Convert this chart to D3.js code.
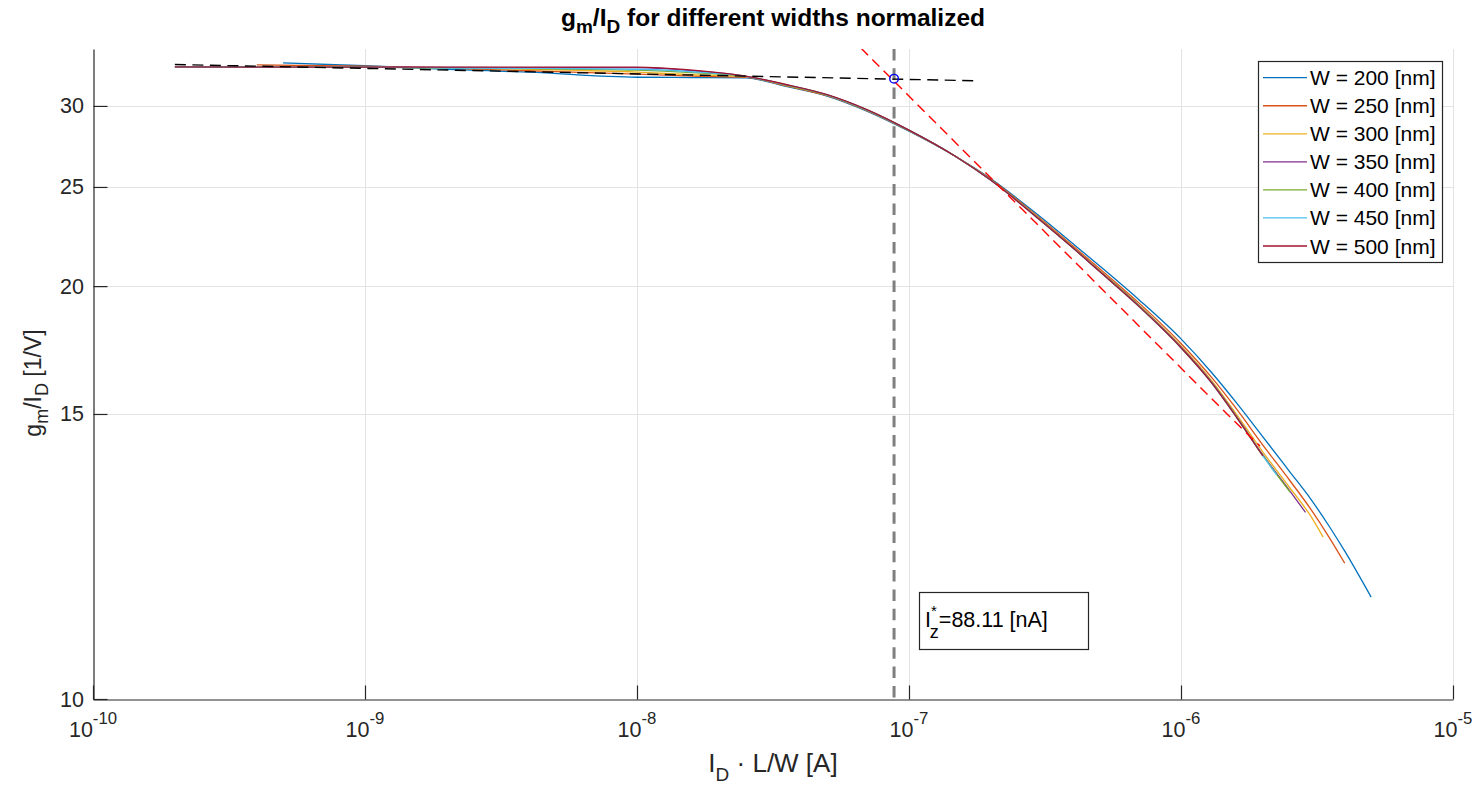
<!DOCTYPE html>
<html><head><meta charset="utf-8">
<script src="https://cdn.jsdelivr.net/npm/d3@7"></script>
<style>
body{margin:0;background:#fff}
svg{display:block}
text{font-family:"Liberation Sans",Arial,Helvetica,sans-serif;fill:#262626}
</style>
</head><body>
<svg id="c" width="1478" height="786"></svg>
<script>
// ---------------- data ----------------
const widths = [200, 250, 300, 350, 400, 450, 500];
const seriesColors = ["#0072BD", "#D95319", "#EDB120", "#7E2F8E", "#77AC30", "#4DBEEE", "#A2142F"];

const id_W200 = [5e-10,1e-9,2e-9,4e-9,1e-8,1.6e-8,2.5e-8,3.5e-8,5e-8,7e-8,1e-7,1.5e-7,2e-7,3e-7,4e-7,5e-7,7e-7,1e-6,1.3e-6,1.6e-6,2e-6,2.5e-6,3e-6,3.5e-6,4e-6,5e-6];
const gm_W200 = [33.05,32.84,32.58,32.37,32.00,31.98,31.96,31.36,30.67,29.65,28.34,26.73,25.47,23.44,22.01,20.95,19.40,17.76,16.45,15.38,14.52,13.83,13.29,12.79,12.34,11.56];

const id_W250 = [4e-10,1e-9,2e-9,4e-9,1e-8,1.6e-8,2.5e-8,3.5e-8,5e-8,7e-8,1e-7,1.5e-7,2e-7,3e-7,4e-7,5e-7,7e-7,1e-6,1.3e-6,1.6e-6,2e-6,2.5e-6,3e-6,3.5e-6,4e-6];
const gm_W250 = [32.90,32.80,32.66,32.47,32.22,32.08,32.00,31.40,30.70,29.68,28.37,26.73,25.43,23.35,21.90,20.82,19.26,17.58,16.27,15.17,14.35,13.66,13.10,12.59,12.13];

const id_W300 = [2e-10,1e-9,2e-9,4e-9,1e-8,1.6e-8,2.5e-8,3.5e-8,5e-8,7e-8,1e-7,1.5e-7,2e-7,3e-7,4e-7,5e-7,7e-7,1e-6,1.3e-6,1.6e-6,2e-6,2.5e-6,3e-6,3.33e-6];
const gm_W300 = [32.77,32.73,32.70,32.58,32.37,32.18,32.04,31.43,30.73,29.71,28.39,26.73,25.40,23.30,21.84,20.74,19.17,17.48,16.15,14.99,14.21,13.52,12.97,12.59];

const id_W350 = [2e-10,1e-9,2e-9,4e-9,1e-8,1.6e-8,2.5e-8,3.5e-8,5e-8,7e-8,1e-7,1.5e-7,2e-7,3e-7,4e-7,5e-7,7e-7,1e-6,1.3e-6,1.6e-6,2e-6,2.5e-6,2.87e-6];
const gm_W350 = [32.73,32.73,32.72,32.70,32.70,32.47,32.08,31.47,30.75,29.73,28.40,26.73,25.39,23.28,21.82,20.72,19.15,17.44,16.10,14.95,14.15,13.46,13.04];

const id_W400 = [2e-10,1e-9,2e-9,4e-9,1e-8,1.6e-8,2.5e-8,3.5e-8,5e-8,7e-8,1e-7,1.5e-7,2e-7,3e-7,4e-7,5e-7,7e-7,1e-6,1.3e-6,1.6e-6,2e-6,2.52e-6];
const gm_W400 = [32.75,32.73,32.65,32.62,32.51,32.33,32.06,31.45,30.74,29.72,28.40,26.73,25.39,23.28,21.81,20.71,19.14,17.42,16.09,14.94,14.14,13.42];

const id_W450 = [2e-10,1e-9,2e-9,4e-9,1e-8,1.6e-8,2.5e-8,3.5e-8,5e-8,7e-8,1e-7,1.5e-7,2e-7,3e-7,4e-7,5e-7,7e-7,1e-6,1.3e-6,1.6e-6,2e-6,2.25e-6];
const gm_W450 = [32.75,32.73,32.67,32.65,32.58,32.40,32.07,31.48,30.76,29.74,28.41,26.73,25.38,23.26,21.80,20.69,19.11,17.41,16.07,14.93,14.13,13.75];

const id_W500 = [2e-10,4e-10,1e-9,2e-9,4e-9,1e-8,1.6e-8,2.5e-8,3.5e-8,5e-8,7e-8,1e-7,1.5e-7,2e-7,3e-7,4e-7,5e-7,7e-7,1e-6,1.3e-6,1.6e-6,2e-6];
const gm_W500 = [32.75,32.73,32.73,32.73,32.73,32.73,32.51,32.08,31.50,30.77,29.75,28.41,26.73,25.38,23.26,21.80,20.69,19.11,17.41,16.07,14.93,14.13];

// asymptotes and the characteristic point
const weakAsymId = [2.0e-10, 1.82e-7];
const weakAsymGm = [32.93, 31.74];
const strongAsymId = [6.66e-8, 1.476e-6, 1.952e-6];
const strongAsymGm = [34.17, 15, 14.33];
const IzStar = 88.11e-9;
const gmAtIz = 31.90;

// axes
const xDomain = [1e-10, 1e-5];
const yDomain = [10, 15, 34.1];
const xTicks = [1e-10, 1e-9, 1e-8, 1e-7, 1e-6, 1e-5];
const xTickExp = ["-10", "-9", "-8", "-7", "-6", "-5"];
const yTicks = [10, 15, 20, 25, 30];
const legendLabels = widths.map(w => `W = ${w} [nm]`);

// ---------------- drawing ----------------
const idArrays = [id_W200, id_W250, id_W300, id_W350, id_W400, id_W450, id_W500];
const gmArrays = [gm_W200, gm_W250, gm_W300, gm_W350, gm_W400, gm_W450, gm_W500];

const svg = d3.select("#c");
const L = 93, R = 1453, T = 49, B = 699;
const yBreakFrac = 0.4385;
const FS = 21.5;

const x = d3.scaleLog().domain(xDomain).range([L, R]);
const y = d3.scaleLog().domain(yDomain).range([B, B - yBreakFrac * (B - T), T]);

svg.append("defs").append("clipPath").attr("id", "clip")
  .append("rect").attr("x", L).attr("y", T).attr("width", R - L).attr("height", B - T);

// grid
const grid = svg.append("g").attr("stroke", "#e3e3e3").attr("stroke-width", 1);
xTicks.slice(1).forEach(v => grid.append("line")
  .attr("x1", Math.round(x(v)) + 0.5).attr("x2", Math.round(x(v)) + 0.5).attr("y1", T).attr("y2", B));
yTicks.slice(1).forEach(v => grid.append("line")
  .attr("y1", Math.round(y(v)) + 0.5).attr("y2", Math.round(y(v)) + 0.5).attr("x1", L).attr("x2", R));

// axes
const xAxis = svg.append("g").attr("transform", `translate(0,${B + 0.5})`)
  .call(d3.axisBottom(x).tickValues(xTicks).tickFormat("").tickSizeInner(-14).tickSizeOuter(0));
const yAxis = svg.append("g").attr("transform", `translate(${L + 0.5},0)`)
  .call(d3.axisLeft(y).tickValues(yTicks).tickFormat("").tickSizeInner(-14).tickSizeOuter(0));
[xAxis, yAxis].forEach(a => {
  a.selectAll("path.domain").attr("stroke", "#262626").attr("stroke-width", 1.2);
  a.selectAll(".tick line").attr("stroke", "#262626").attr("stroke-width", 1.2);
});

// x tick labels (10^n)
xTicks.forEach((v, i) => {
  const t = svg.append("text").attr("x", x(v)).attr("y", 737).attr("text-anchor", "middle")
    .attr("font-size", FS);
  t.append("tspan").text("10");
  t.append("tspan").attr("dy", -13).attr("font-size", FS * 0.78).text(xTickExp[i]);
});
// y tick labels
yTicks.forEach(v => {
  svg.append("text").attr("x", L - 9).attr("y", y(v) + 7.5).attr("text-anchor", "end")
    .attr("font-size", FS).text(String(v));
});

// title
const title = svg.append("text").attr("x", (L + R) / 2).attr("y", 26).attr("text-anchor", "middle")
  .attr("font-size", 24.5).attr("font-weight", "bold").style("fill", "#000");
title.append("tspan").text("g");
title.append("tspan").attr("dy", 7).attr("font-size", 19).text("m");
title.append("tspan").attr("dy", -7).text("/I");
title.append("tspan").attr("dy", 7).attr("font-size", 19).text("D");
title.append("tspan").attr("dy", -7).text(" for different widths normalized");

// x label
const xl = svg.append("text").attr("x", (L + R) / 2).attr("y", 772).attr("text-anchor", "middle")
  .attr("font-size", 26);
xl.append("tspan").text("I");
xl.append("tspan").attr("dy", 8.5).attr("font-size", 19).text("D");
xl.append("tspan").attr("dy", -8.5).text(" \u00B7 L/W [A]");

// y label
const yl = svg.append("text").attr("transform", `translate(41,${(T + B) / 2 + 9}) rotate(-90)`)
  .attr("text-anchor", "middle").attr("font-size", 23);
yl.append("tspan").text("g");
yl.append("tspan").attr("dy", 7).attr("font-size", 18).text("m");
yl.append("tspan").attr("dy", -7).text("/I");
yl.append("tspan").attr("dy", 7).attr("font-size", 18).text("D");
yl.append("tspan").attr("dy", -7).text(" [1/V]");

// plot content
const plot = svg.append("g").attr("clip-path", "url(#clip)");
const line = d3.line().x(d => x(d[0])).y(d => y(d[1])).curve(d3.curveMonotoneX);

// vertical I_z* marker
plot.append("line").attr("x1", x(IzStar)).attr("x2", x(IzStar))
  .attr("y1", y(yDomain[2])).attr("y2", y(yDomain[0]))
  .attr("stroke", "#7f7f7f").attr("stroke-width", 3).attr("stroke-dasharray", "11.5,7.8");

// series
idArrays.forEach((ids, i) => {
  const pts = ids.map((v, k) => [v, gmArrays[i][k]]);
  plot.append("path").attr("d", line(pts)).attr("fill", "none")
    .attr("stroke", seriesColors[i]).attr("stroke-width", 1.3);
});

// asymptotes
const straight = d3.line().x(d => x(d[0])).y(d => y(d[1]));
plot.append("path").attr("d", straight(weakAsymId.map((v, k) => [v, weakAsymGm[k]])))
  .attr("fill", "none").attr("stroke", "#000").attr("stroke-width", 1.4).attr("stroke-dasharray", "11,6.5");
plot.append("path").attr("d", straight(strongAsymId.map((v, k) => [v, strongAsymGm[k]])))
  .attr("fill", "none").attr("stroke", "#ff0000").attr("stroke-width", 1.4).attr("stroke-dasharray", "10,6");

// marker
plot.append("circle").attr("cx", x(IzStar)).attr("cy", y(gmAtIz)).attr("r", 4.3)
  .attr("fill", "none").attr("stroke", "#0000ff").attr("stroke-width", 1.4);

// annotation box
const ann = svg.append("g");
ann.append("rect").attr("x", 919.5).attr("y", 592.5).attr("width", 169).attr("height", 57)
  .attr("fill", "#fff").attr("stroke", "#262626").attr("stroke-width", 1.2);
const at = ann.append("text").attr("x", 925).attr("y", 627).attr("font-size", FS).style("fill", "#000");
at.append("tspan").text("I");
at.append("tspan").attr("dy", -11).attr("font-size", 15).text("*");
at.append("tspan").attr("dx", -7).attr("dy", 22).attr("font-size", 18).text("z");
at.append("tspan").attr("dy", -11).text("=88.11 [nA]");

// legend
const lg = svg.append("g");
lg.append("rect").attr("x", 1258.5).attr("y", 61.5).attr("width", 184).attr("height", 201)
  .attr("fill", "#fff").attr("stroke", "#262626").attr("stroke-width", 1.2);
legendLabels.forEach((lab, i) => {
  const yy = 77.7 + i * 28.05;
  lg.append("line").attr("x1", 1263).attr("x2", 1307).attr("y1", yy).attr("y2", yy)
    .attr("stroke", seriesColors[i]).attr("stroke-width", 1.3);
  lg.append("text").attr("x", 1310).attr("y", yy + 7.5).attr("font-size", 21).style("fill", "#000").text(lab);
});
</script>
</body></html>
